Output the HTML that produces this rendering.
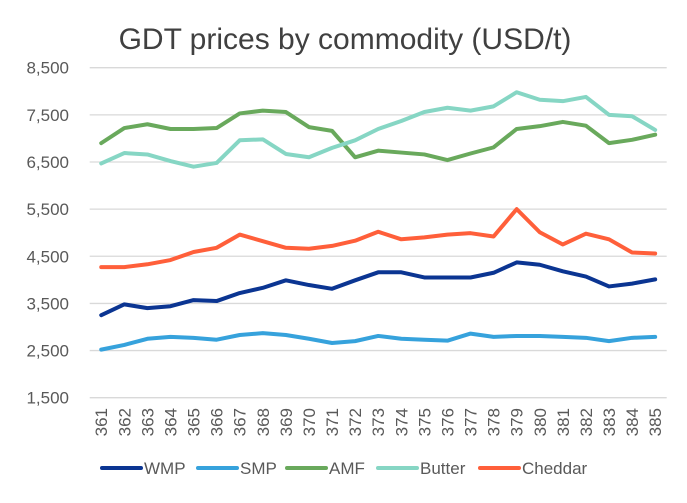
<!DOCTYPE html>
<html><head><meta charset="utf-8"><style>
body{margin:0;background:#fff;}
svg text{font-family:"Liberation Sans",sans-serif;fill:#595959;}
</style></head><body>
<svg width="687" height="498">
<text x="345" y="49" text-anchor="middle" font-size="30" style="fill:#404040">GDT prices by commodity (USD/t)</text>
<g id="grid"></g><g id="ylabels"></g><g id="xlabels"></g><g id="series"></g><g id="legend"></g>
</svg>
<script>
const categories=[361,362,363,364,365,366,367,368,369,370,371,372,373,374,375,376,377,378,379,380,381,382,383,384,385];
const yTicks=[1500,2500,3500,4500,5500,6500,7500,8500];
const yTickLabels=["1,500","2,500","3,500","4,500","5,500","6,500","7,500","8,500"];
const seriesNames=["WMP","SMP","AMF","Butter","Cheddar"];
const seriesColors=["#0b3592","#36a2dc","#69a95c","#86d6c4","#ff5f3a"];
const wmp=[3250,3480,3400,3440,3570,3550,3720,3830,3990,3890,3810,3990,4160,4160,4050,4050,4050,4150,4370,4320,4180,4070,3860,3920,4010];
const smp=[2520,2620,2750,2790,2770,2730,2830,2870,2830,2750,2660,2700,2810,2750,2730,2710,2860,2790,2810,2810,2790,2770,2700,2770,2790];
const amf=[6900,7220,7300,7200,7200,7220,7530,7590,7560,7240,7160,6600,6740,6700,6660,6540,6680,6810,7200,7260,7350,7270,6900,6970,7080];
const butter=[6470,6690,6660,6520,6400,6480,6960,6980,6670,6600,6800,6960,7200,7370,7560,7650,7590,7680,7980,7820,7790,7880,7500,7470,7180];
const cheddar=[4270,4270,4330,4420,4590,4680,4960,4820,4680,4660,4720,4830,5020,4860,4900,4960,4990,4920,5500,5010,4750,4980,4860,4580,4560];
const allSeries=[wmp,smp,amf,butter,cheddar];
const NS="http://www.w3.org/2000/svg";
const left=89.7,right=666.7,yTop=67.7,yBot=397.7,yMin=1500,yMax=8500;
const band=(right-left)/categories.length;
function xs(i){return left+band*(i+0.5);}
function ys(v){return yBot-(v-yMin)/(yMax-yMin)*(yBot-yTop);}
function mk(tag,attrs,parent){const e=document.createElementNS(NS,tag);for(const k in attrs)e.setAttribute(k,attrs[k]);parent.appendChild(e);return e;}
const grid=document.getElementById('grid'),yl=document.getElementById('ylabels'),xl=document.getElementById('xlabels'),sg=document.getElementById('series'),lg=document.getElementById('legend');
yTicks.forEach((t,i)=>{
 const l=mk('line',{x1:left,x2:right,y1:ys(t),y2:ys(t),stroke:'#d9d9d9','stroke-width':1.3},grid);
 
 
 const tx=mk('text',{x:69,y:ys(t)+6,'text-anchor':'end','font-size':17},yl);
 tx.textContent=yTickLabels[i];
 
 
});
categories.forEach((c,i)=>{
 const x=xs(i)+6,y=408;
 const tx=mk('text',{x:x,y:y,'text-anchor':'end','font-size':17,transform:`rotate(-90 ${x} ${y})`},xl);
 tx.textContent=c;
 
 
});
allSeries.forEach((s,k)=>{
 const p=mk('polyline',{points:s.map((v,i)=>xs(i)+','+ys(v)).join(' '),fill:'none',stroke:seriesColors[k],'stroke-width':4,'stroke-linejoin':'round','stroke-linecap':'round'},sg);
 
 
});
const legX=[101,197,286,377,479];
seriesNames.forEach((n,k)=>{
 const g=mk('g',{},lg);
 
 
 mk('line',{x1:legX[k]+1,x2:legX[k]+40,y1:468,y2:468,stroke:seriesColors[k],'stroke-width':4,'stroke-linecap':'round'},g);
 const t=mk('text',{x:legX[k]+43,y:474,'font-size':17},g);
 t.textContent=n;
});
</script>
</body></html>
